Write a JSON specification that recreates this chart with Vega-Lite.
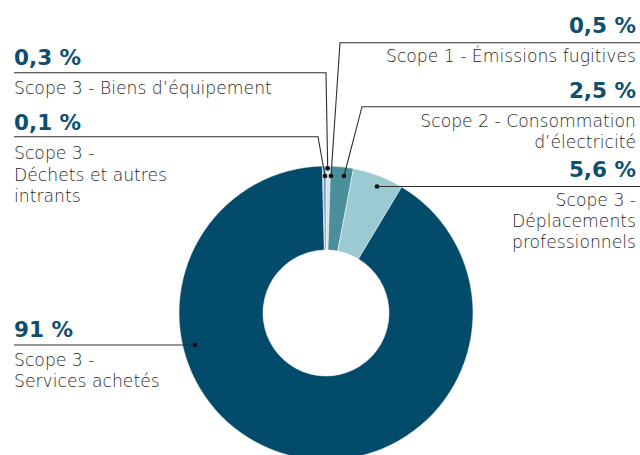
{
  "$schema": "https://vega.github.io/schema/vega-lite/v6.json",
  "width": 640,
  "height": 455,
  "autosize": {"type": "none"},
  "padding": 0,
  "background": "#ffffff",
  "config": {"view": {"stroke": null}, "axis": {"disable": true}},
  "datasets": {
    "slices": [
      {"category": "Scope 1 - Émissions fugitives", "value": 0.5, "ord": 1},
      {"category": "Scope 2 - Consommation d’électricité", "value": 2.5, "ord": 2},
      {"category": "Scope 3 - Déplacements professionnels", "value": 5.6, "ord": 3},
      {"category": "Scope 3 - Services achetés", "value": 91, "ord": 4},
      {"category": "Scope 3 - Déchets et autres intrants", "value": 0.1, "ord": 5},
      {"category": "Scope 3 - Biens d’équipement", "value": 0.3, "ord": 6}
    ],
    "leaders": [
      {"id": "L1", "o": 1, "px": 14, "py": 72.7, "end": false},
      {"id": "L1", "o": 2, "px": 326, "py": 72.7, "end": false},
      {"id": "L1", "o": 3, "px": 327.7, "py": 168.3, "end": true},
      {"id": "L2", "o": 1, "px": 14, "py": 136.7, "end": false},
      {"id": "L2", "o": 2, "px": 318, "py": 136.7, "end": false},
      {"id": "L2", "o": 3, "px": 325, "py": 176, "end": true},
      {"id": "L3", "o": 1, "px": 14, "py": 345, "end": false},
      {"id": "L3", "o": 2, "px": 195, "py": 345, "end": true},
      {"id": "R1", "o": 1, "px": 640, "py": 42.7, "end": false},
      {"id": "R1", "o": 2, "px": 340, "py": 42.7, "end": false},
      {"id": "R1", "o": 3, "px": 331, "py": 176, "end": true},
      {"id": "R2", "o": 1, "px": 640, "py": 106.7, "end": false},
      {"id": "R2", "o": 2, "px": 362, "py": 106.7, "end": false},
      {"id": "R2", "o": 3, "px": 344, "py": 176, "end": true},
      {"id": "R3", "o": 1, "px": 640, "py": 186.5, "end": false},
      {"id": "R3", "o": 2, "px": 377, "py": 186.5, "end": true}
    ],
    "labels": [
      {"pct": "0,3 %", "lines": ["Scope 3 - Biens d’équipement"], "side": "left", "tx": 14, "ty": 65},
      {"pct": "0,1 %", "lines": ["Scope 3 -", "Déchets et autres", "intrants"], "side": "left", "tx": 14, "ty": 130},
      {"pct": "91 %", "lines": ["Scope 3 -", "Services achetés"], "side": "left", "tx": 14, "ty": 336.7},
      {"pct": "0,5 %", "lines": ["Scope 1 - Émissions fugitives"], "side": "right", "tx": 636, "ty": 33.3},
      {"pct": "2,5 %", "lines": ["Scope 2 - Consommation", "d’électricité"], "side": "right", "tx": 636, "ty": 98.3},
      {"pct": "5,6 %", "lines": ["Scope 3 -", "Déplacements", "professionnels"], "side": "right", "tx": 636, "ty": 176.7}
    ]
  },
  "layer": [
    {
      "data": {"name": "slices"},
      "mark": {"type": "arc", "outerRadius": 147, "innerRadius": 63, "stroke": "#ffffff", "strokeWidth": 0.5},
      "encoding": {
        "x": {"datum": 326, "type": "quantitative", "scale": {"domain": [0, 640]}},
        "y": {"datum": 313, "type": "quantitative", "scale": {"domain": [0, 455], "reverse": true}},
        "theta": {"field": "value", "type": "quantitative", "stack": true},
        "order": {"field": "ord", "type": "quantitative"},
        "color": {
          "field": "category",
          "type": "nominal",
          "legend": null,
          "scale": {
            "domain": ["Scope 1 - Émissions fugitives", "Scope 2 - Consommation d’électricité", "Scope 3 - Déplacements professionnels", "Scope 3 - Services achetés", "Scope 3 - Déchets et autres intrants", "Scope 3 - Biens d’équipement"],
            "range": ["#cfe2eb", "#4a8f99", "#9ccad2", "#024b6b", "#2f6d96", "#6a9ac0"]
          }
        }
      }
    },
    {
      "data": {"name": "leaders"},
      "mark": {"type": "line", "color": "#2e2e2e", "strokeWidth": 1.1},
      "encoding": {
        "x": {"field": "px", "type": "quantitative", "scale": {"domain": [0, 640]}},
        "y": {"field": "py", "type": "quantitative", "scale": {"domain": [0, 455], "reverse": true}},
        "detail": {"field": "id"},
        "order": {"field": "o", "type": "quantitative"}
      }
    },
    {
      "data": {"name": "leaders"},
      "transform": [{"filter": "datum.end"}],
      "mark": {"type": "point", "filled": true, "color": "#111111", "size": 22, "opacity": 1},
      "encoding": {
        "x": {"field": "px", "type": "quantitative", "scale": {"domain": [0, 640]}},
        "y": {"field": "py", "type": "quantitative", "scale": {"domain": [0, 455], "reverse": true}}
      }
    },
    {
      "data": {"name": "labels"},
      "transform": [{"filter": "datum.side == 'left'"}],
      "mark": {"type": "text", "align": "left", "baseline": "alphabetic", "font": "DejaVu Sans", "fontWeight": "bold", "fontSize": 21.5, "color": "#0e4f6e"},
      "encoding": {
        "x": {"field": "tx", "type": "quantitative", "scale": {"domain": [0, 640]}},
        "y": {"field": "ty", "type": "quantitative", "scale": {"domain": [0, 455], "reverse": true}},
        "text": {"field": "pct"}
      }
    },
    {
      "data": {"name": "labels"},
      "transform": [{"filter": "datum.side == 'right'"}],
      "mark": {"type": "text", "align": "right", "baseline": "alphabetic", "font": "DejaVu Sans", "fontWeight": "bold", "fontSize": 21.5, "color": "#0e4f6e"},
      "encoding": {
        "x": {"field": "tx", "type": "quantitative", "scale": {"domain": [0, 640]}},
        "y": {"field": "ty", "type": "quantitative", "scale": {"domain": [0, 455], "reverse": true}},
        "text": {"field": "pct"}
      }
    },
    {
      "data": {"name": "labels"},
      "transform": [{"filter": "datum.side == 'left'"}],
      "mark": {"type": "text", "align": "left", "baseline": "alphabetic", "dy": 29, "lineHeight": 21.5, "font": "DejaVu Sans", "fontWeight": 300, "fontSize": 17.2, "color": "#1f1f1f"},
      "encoding": {
        "x": {"field": "tx", "type": "quantitative", "scale": {"domain": [0, 640]}},
        "y": {"field": "ty", "type": "quantitative", "scale": {"domain": [0, 455], "reverse": true}},
        "text": {"field": "lines"}
      }
    },
    {
      "data": {"name": "labels"},
      "transform": [{"filter": "datum.side == 'right'"}],
      "mark": {"type": "text", "align": "right", "baseline": "alphabetic", "dy": 29, "lineHeight": 21, "font": "DejaVu Sans", "fontWeight": 300, "fontSize": 17.2, "color": "#1f1f1f"},
      "encoding": {
        "x": {"field": "tx", "type": "quantitative", "scale": {"domain": [0, 640]}},
        "y": {"field": "ty", "type": "quantitative", "scale": {"domain": [0, 455], "reverse": true}},
        "text": {"field": "lines"}
      }
    }
  ]
}
